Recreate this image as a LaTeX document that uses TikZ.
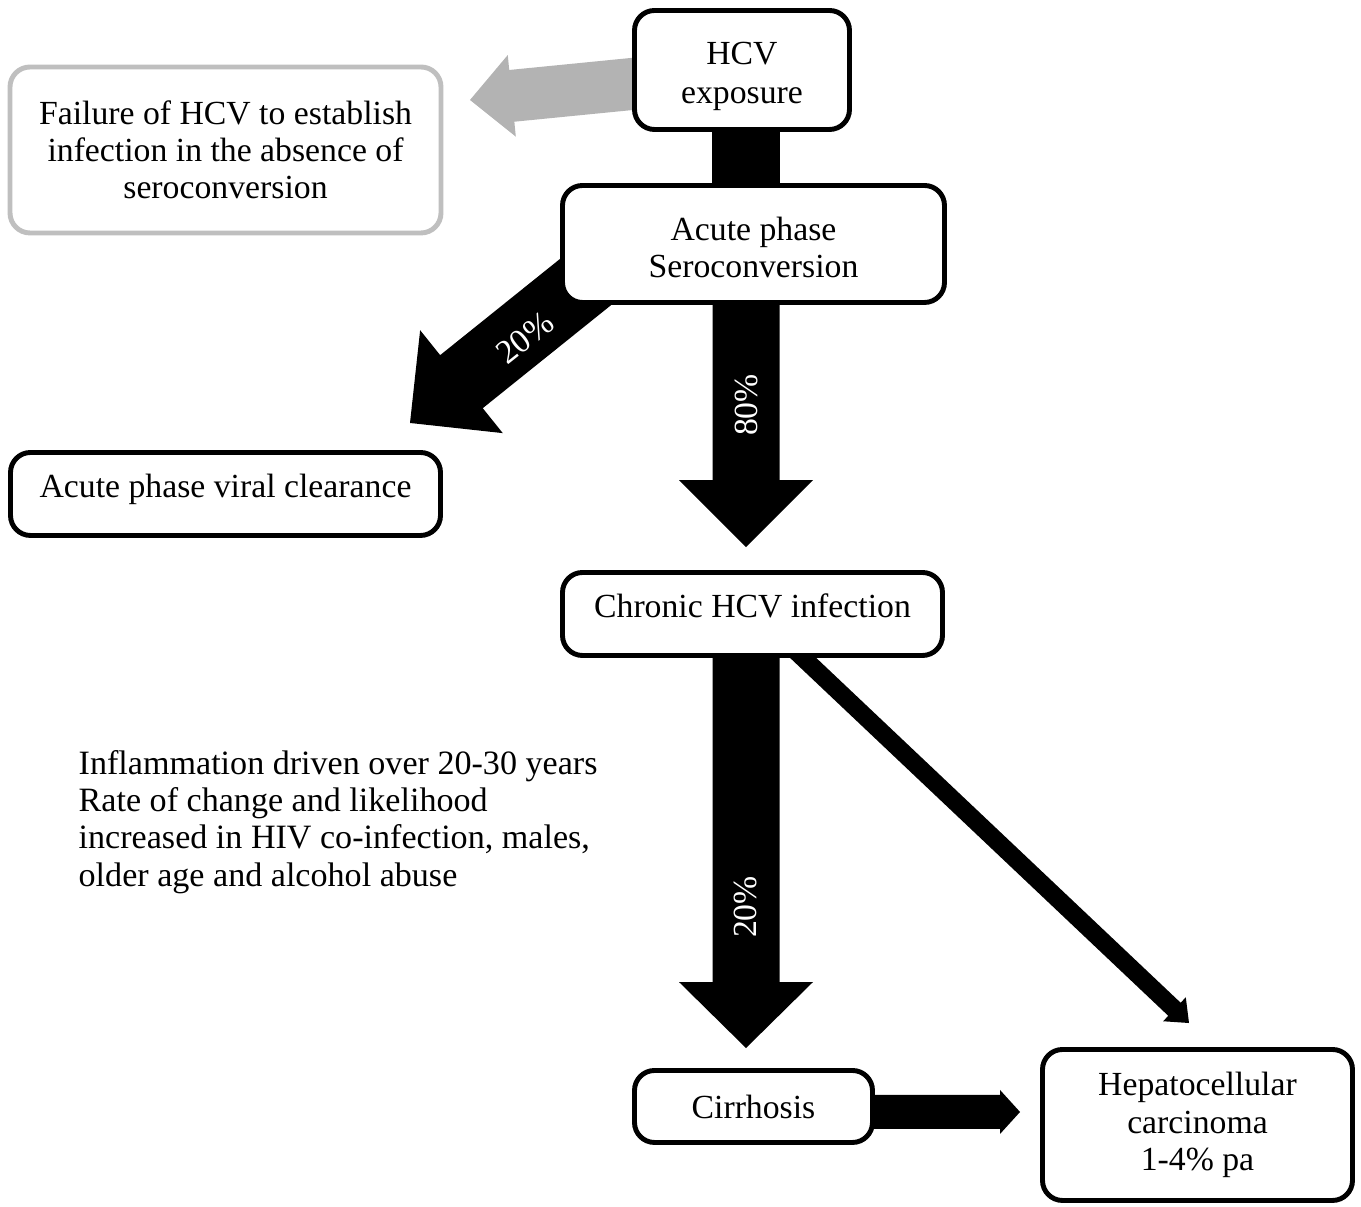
\documentclass[tikz,border=0pt]{standalone}
\usepackage{fontspec}
\setmainfont{Liberation Serif}
\usetikzlibrary{calc,backgrounds}

\definecolor{arrowgray}{RGB}{179,179,179}
\definecolor{boxgray}{RGB}{191,191,191}

\tikzset{
  stage/.style={draw, line width=1.4pt, rounded corners=0.2cm, fill=white,
    align=center, inner sep=0pt, font=\fontsize{9.6}{10.6}\selectfont},
  oneline/.style={text height=0.24cm, text depth=0.16cm},
  pct/.style={text=white, inner sep=0pt, font=\fontsize{9.6}{10.6}\selectfont},
}

% block arrow: fill, from, tip, shaft half width, head half width, head length
\newcommand\fatarrow[6]{%
  \coordinate (fa-s) at (#2);
  \coordinate (fa-t) at (#3);
  \coordinate (fa-h) at ($(fa-t)!#6!(fa-s)$);
  \fill[#1] ($(fa-s)!#4!90:(fa-t)$) -- ($(fa-h)!#4!-90:(fa-s)$)
    -- ($(fa-h)!#5!-90:(fa-s)$) -- (fa-t) -- ($(fa-h)!#5!90:(fa-s)$)
    -- ($(fa-h)!#4!90:(fa-s)$) -- ($(fa-s)!#4!-90:(fa-t)$) -- cycle;
}

\begin{document}
\begin{tikzpicture}
    \useasboundingbox (0,0) rectangle (13.61,12.07);

    \node[stage, minimum width=2.15cm, minimum height=1.19cm] (hcv) at (7.42,11.37)
        {\rule{0pt}{0.36cm}HCV\\[0.5pt]exposure};
    \node[stage, draw=boxgray, minimum width=4.31cm, minimum height=1.66cm] (fail) at (2.255,10.57)
        {Failure of HCV to establish\\infection in the absence of\\seroconversion};
    \node[stage, minimum width=3.82cm, minimum height=1.17cm] (acute) at (7.535,9.63)
        {\rule{0pt}{0.31cm}Acute phase\\Seroconversion};
    \node[stage, oneline, minimum width=4.30cm, minimum height=0.83cm] (clear) at (2.255,7.13) {Acute phase viral clearance};
    \node[stage, oneline, minimum width=3.80cm, minimum height=0.83cm] (chronic) at (7.525,5.93) {Chronic HCV infection};
    \node[stage, minimum width=2.38cm, minimum height=0.72cm] (cirr) at (7.535,1.005) {Cirrhosis};
    \node[stage, minimum width=3.10cm, minimum height=1.51cm] (hcc) at (11.975,0.82)
        {Hepatocellular\\carcinoma\\1-4\% pa};
    \node[anchor=west, align=left, inner sep=0pt, font=\fontsize{9.7}{10.6}\selectfont] (note) at (0.78,3.85)
        {Inflammation driven over 20-30 years\\Rate of change and likelihood\\increased in HIV co-infection, males,\\older age and alcohol abuse};

    \begin{scope}[on background layer]
        \coordinate (spine) at (7.46,0);
        \coordinate (t20) at (4.10,7.84);
        \coordinate (tc) at ($(hcc.west)+(-0.2,0.13)$);

        \draw[line width=0.68cm] ($(hcv.south -| spine)+(0,0.1)$) -- ($(acute.north -| spine)+(0,-0.1)$);
        \fatarrow{arrowgray}{$(hcv.west)+(0.15,-0.125)$}{4.70,11.07}{0.26cm}{0.41cm}{0.42cm}
        \fatarrow{black}{$(acute.south west)+(0.58,0.49)$}{t20}{0.34cm}{0.66cm}{0.66cm}
        \fatarrow{black}{$(acute.south -| spine)+(0,0.1)$}{$(chronic.north -| spine)+(0,0.23)$}{0.335cm}{0.67cm}{0.67cm}
        \fatarrow{black}{$(chronic.south -| spine)+(0,0.1)$}{$(cirr.north -| spine)+(0,0.2)$}{0.335cm}{0.67cm}{0.66cm}
        \fatarrow{black}{$(chronic.south)+(0.38,0.12)$}{$(hcc.north)+(-0.085,0.24)$}{0.09cm}{0.165cm}{0.2cm}
        \fatarrow{black}{$(cirr.east |- tc)+(-0.1,0)$}{tc}{0.17cm}{0.22cm}{0.2cm}

        \node[pct, rotate=38.4] (p20a) at (5.25,8.69) {20\%};
        \node[pct, rotate=90] (p80) at (7.47,8.02) {80\%};
        \node[pct, rotate=90] (p20b) at (7.46,3.00) {20\%};
    \end{scope}
\end{tikzpicture}
\end{document}
